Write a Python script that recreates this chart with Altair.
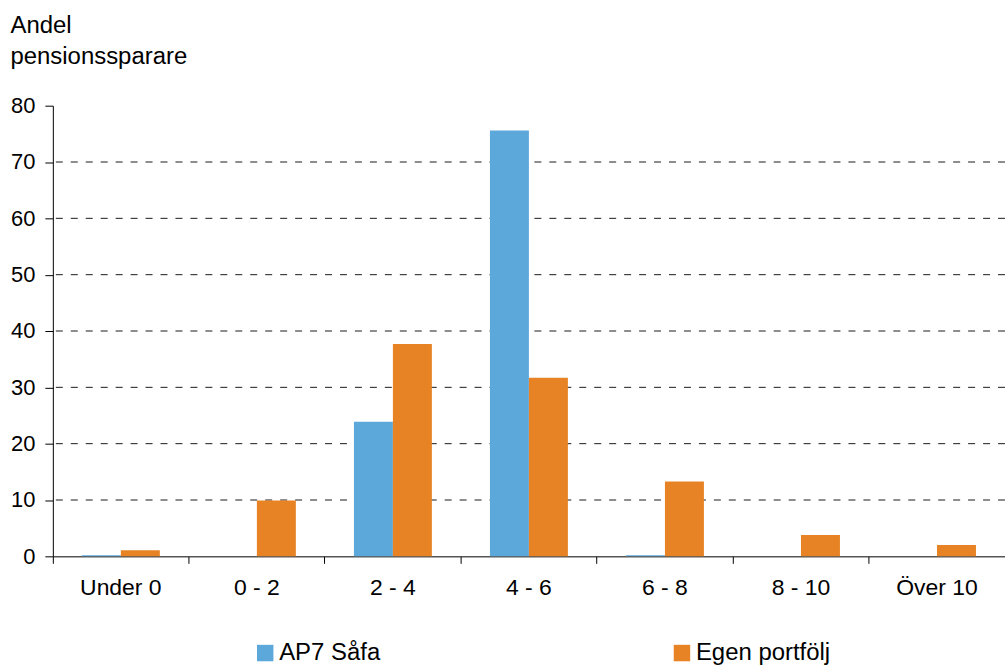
import altair as alt
import pandas as pd

# Avkastningsintervall (procent) och andel pensionssparare per grupp
intervall = ["Under 0", "0 - 2", "2 - 4", "4 - 6", "6 - 8", "8 - 10", "Över 10"]
ap7_safa = [0.2, 0.0, 23.9, 75.6, 0.2, 0.0, 0.0]
egen_portfolj = [1.1, 9.9, 37.7, 31.7, 13.3, 3.8, 2.0]
serier = ["AP7 Såfa", "Egen portfölj"]
farger = ["#5DA8DB", "#E78324"]
stodlinjer = [10, 20, 30, 40, 50, 60, 70]

rows = []
for i, k in enumerate(intervall):
    rows.append({"intervall": k, "serie": serier[0], "andel": ap7_safa[i]})
    rows.append({"intervall": k, "serie": serier[1], "andel": egen_portfolj[i]})
df = pd.DataFrame(rows)
grid_df = pd.DataFrame({"v": stodlinjer})

FONT = "Liberation Sans"

y_scale = alt.Scale(domain=[0, 80], nice=False)
y_axis = alt.Axis(
    title=["Andel", "pensionssparare"],
    titleAngle=0,
    titleAlign="left",
    titleBaseline="alphabetic",
    titleX=-43,
    titleY=-73,
    titleLineHeight=31,
    titleFont=FONT,
    titleFontSize=24,
    titleFontWeight="normal",
    titleColor="black",
    values=[0, 10, 20, 30, 40, 50, 60, 70, 80],
    grid=False,
    domainColor="black",
    tickColor="black",
    tickSize=8,
    labelPadding=10,
    labelFontSize=22,
    labelFont=FONT,
    labelColor="black",
)

grid = alt.Chart(grid_df).mark_rule(
    color="#1a1a1a", strokeDash=[7, 8], strokeWidth=1
).encode(y=alt.Y("v:Q", scale=y_scale, axis=y_axis))

bars = alt.Chart(df).mark_bar().encode(
    x=alt.X(
        "intervall:N",
        sort=intervall,
        scale=alt.Scale(paddingInner=0, paddingOuter=0),
        axis=alt.Axis(
            title=None,
            labelAngle=0,
            bandPosition=0,
            domainColor="black",
            tickColor="black",
            tickSize=7,
            labelPadding=13,
            labelFontSize=23,
            labelFont=FONT,
            labelColor="black",
        ),
    ),
    xOffset=alt.XOffset(
        "serie:N", sort=serier, scale=alt.Scale(paddingOuter=0.745, paddingInner=0)
    ),
    y=alt.Y("andel:Q", scale=y_scale, axis=y_axis),
    color=alt.Color(
        "serie:N",
        sort=serier,
        scale=alt.Scale(domain=serier, range=farger),
        legend=alt.Legend(
            title=None,
            orient="none",
            direction="horizontal",
            legendX=201,
            legendY=537,
            symbolType="square",
            symbolSize=272,
            symbolStrokeWidth=0,
            labelFontSize=24,
            labelFont=FONT,
            labelColor="black",
            labelOffset=2,
            columnPadding=290,
            labelLimit=300,
        ),
    ),
)

chart = (
    alt.layer(grid, bars)
    .properties(
        width=955,
        height=452,
        padding={"left": 53, "top": 105, "right": 0, "bottom": 109},
        autosize=alt.AutoSizeParams(type="none"),
        background="white",
    )
    .configure_view(strokeWidth=0)
    .configure_axis(grid=False)
)

chart.save("out.html", embed_options={"renderer": "svg", "actions": False})
